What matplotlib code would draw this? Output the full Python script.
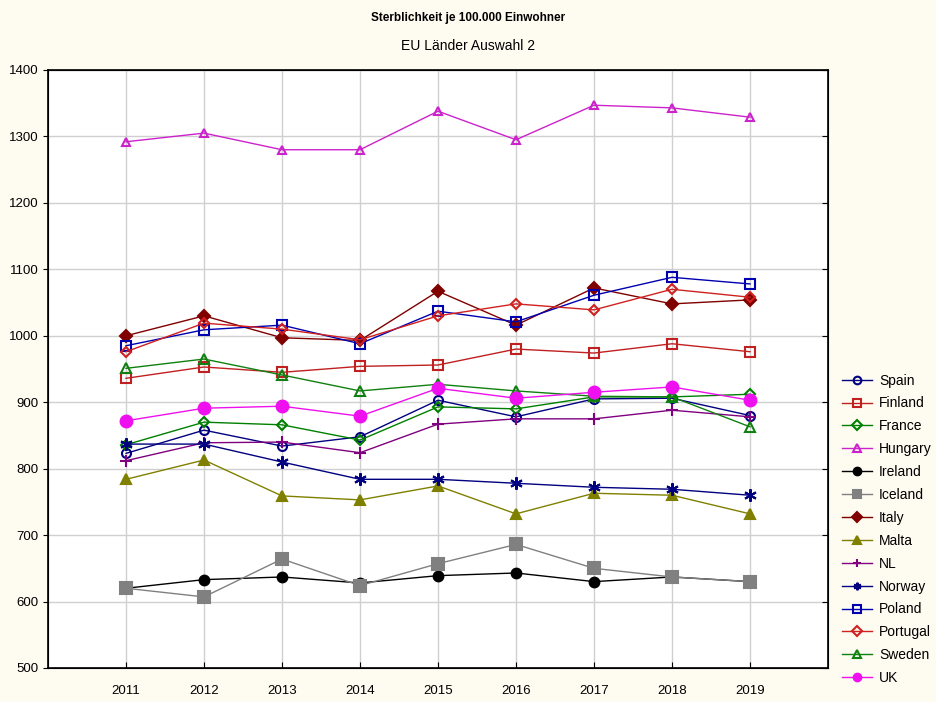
import matplotlib.pyplot as plt

plt.rcParams['font.family'] = ['Liberation Sans', 'DejaVu Sans']

years = [2011, 2012, 2013, 2014, 2015, 2016, 2017, 2018, 2019]

spain = [823, 858, 834, 848, 903, 878, 905, 906, 880]
finland = [936, 953, 945, 954, 956, 980, 974, 988, 976]
france = [836, 870, 866, 843, 893, 890, 908, 908, 912]
hungary = [1292, 1305, 1280, 1280, 1338, 1295, 1347, 1343, 1329]
ireland = [620, 633, 637, 628, 639, 643, 630, 637, 630]
iceland = [620, 607, 664, 624, 657, 686, 650, 637, 630]
italy = [1000, 1030, 997, 993, 1067, 1016, 1072, 1048, 1054]
malta = [784, 813, 759, 753, 774, 732, 763, 760, 732]
nl = [812, 839, 840, 824, 867, 875, 875, 888, 878]
norway = [837, 837, 810, 784, 784, 778, 772, 769, 760]
poland = [985, 1009, 1016, 988, 1037, 1021, 1061, 1088, 1078]
portugal = [976, 1019, 1010, 994, 1030, 1048, 1039, 1070, 1058]
sweden = [951, 965, 941, 917, 927, 917, 909, 908, 863]
uk = [872, 891, 894, 879, 921, 906, 915, 923, 903]

# name, values, color, marker, filled, size
series = [
    ('Spain', spain, '#000080', 'o', False, 6.5),
    ('Finland', finland, '#C02020', 's', False, 6.5),
    ('France', france, '#008000', 'D', False, 5),
    ('Hungary', hungary, '#CC22CC', '^', False, 6),
    ('Ireland', ireland, '#000000', 'o', True, 7),
    ('Iceland', iceland, '#808080', 's', True, 8),
    ('Italy', italy, '#800000', 'D', True, 6),
    ('Malta', malta, '#808000', '^', True, 7),
    ('NL', nl, '#800080', '+', False, 9),
    ('Norway', norway, '#000080', (6, 2, 0), False, 9),
    ('Poland', poland, '#0000B0', 's', False, 6.5),
    ('Portugal', portugal, '#D02020', 'D', False, 5),
    ('Sweden', sweden, '#108010', '^', False, 6.5),
    ('UK', uk, '#EE10EE', 'o', True, 8.5),
]

fig = plt.figure(figsize=(9.36, 7.02), dpi=100, facecolor='#FEFBF1')
ax = fig.add_axes([48 / 936, 1 - 668 / 702, 780 / 936, 598 / 702])
ax.set_facecolor('white')

for name, vals, col, mk, filled, ms in series:
    ax.plot(years, vals, color=col, linewidth=1, marker=mk, markersize=ms,
            markerfacecolor=col if filled else 'none', markeredgecolor=col,
            markeredgewidth=1.5, label=name)

ax.set_xlim(2010, 2020)
ax.set_ylim(500, 1400)
ax.set_xticks(years)
ax.set_yticks(range(500, 1401, 100))
ax.grid(True, color='#D0D0D0', linewidth=1)
ax.set_axisbelow(True)
ax.tick_params(axis='y', direction='out', labelsize=9.5, length=3.5, pad=3.5)
ax.tick_params(axis='x', direction='in', labelsize=9.5, length=4, pad=12)
for s in ax.spines.values():
    s.set_linewidth(1.2)

# right side ticks point inward
ax2 = ax.twinx()
ax2.set_ylim(500, 1400)
ax2.set_yticks(range(500, 1401, 100))
ax2.tick_params(axis='y', direction='in', length=4, labelright=False)

fig.text(0.5, 1 - 18 / 702, 'Sterblichkeit je 100.000 Einwohner', ha='center',
         va='center', fontsize=8.5, fontweight='bold')
fig.text(0.5, 1 - 46 / 702, 'EU Länder Auswahl 2', ha='center', va='center',
         fontsize=10)

leg = ax.legend(loc='upper left', bbox_to_anchor=(836 / 936, 1 - 368 / 702),
                bbox_transform=fig.transFigure, frameon=False, fontsize=10,
                handlelength=2.2, labelspacing=0.64, handletextpad=0.5,
                borderaxespad=0)
for h in leg.legend_handles:
    h.set_markersize(5.5)

fig.savefig('out.png', dpi=100, facecolor=fig.get_facecolor())
